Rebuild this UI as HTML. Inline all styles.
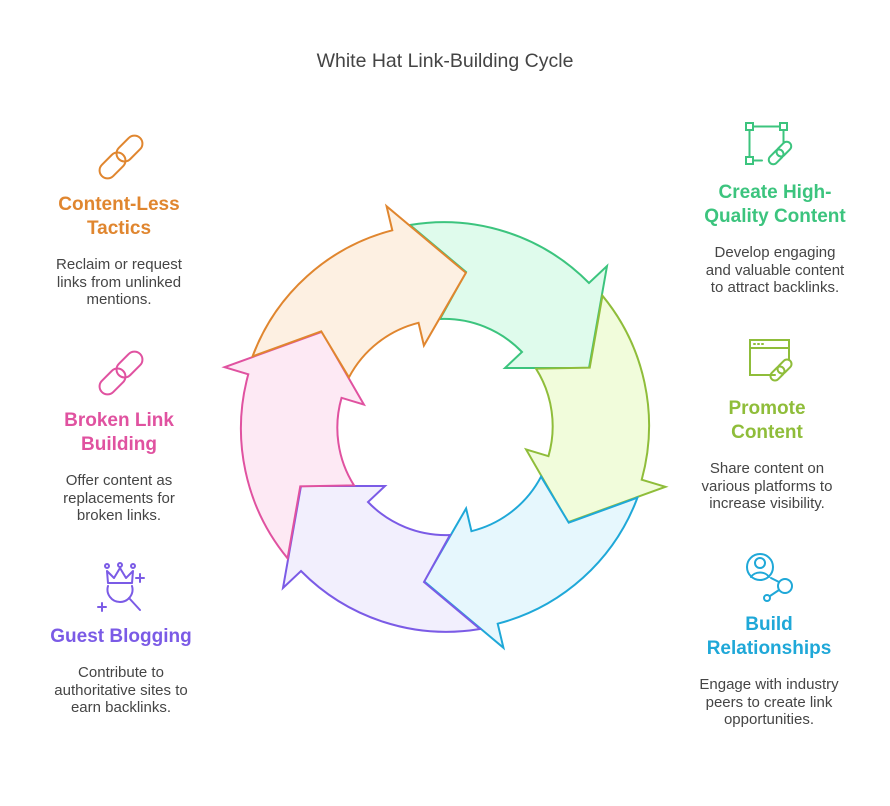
<!DOCTYPE html>
<html><head><meta charset="utf-8"><style>
body{margin:0;width:890px;height:806px;background:#fff;position:relative;font-family:"Liberation Sans",Arial,sans-serif;overflow:hidden}
.t{position:absolute;text-align:center;white-space:nowrap}
.h{font-weight:bold;font-size:19px;line-height:24px}
.b{font-size:15px;line-height:17.5px;color:#454545}
svg{position:absolute;left:0;top:0}
</style></head><body>
<div class="t" style="left:0;width:890px;top:50px;font-size:19.5px;line-height:22px;color:#444">White Hat Link-Building Cycle</div>

<svg width="890" height="806" viewBox="0 0 890 806">
<defs>
<path id="arr" d="M410,225 A204,204 0 0 1 589,283 L607,266 L589,368 L505,368 L522,352 A108,108 0 0 0 440,319 L466,272 Z" stroke-width="2" stroke-linejoin="miter"/>
<g id="lnk" fill="none" stroke-width="2">
<rect x="-8" y="-27" width="16" height="30" rx="8"/>
<rect x="-8" y="-3" width="16" height="30" rx="8"/>
</g>
</defs>
<use href="#arr" fill="#dffbec" stroke="#3cc47e"/>
<use href="#arr" transform="rotate(60 445 427)" fill="#f1fcdb" stroke="#8fbd3a"/>
<use href="#arr" transform="rotate(120 445 427)" fill="#e6f7fd" stroke="#1fa8d8"/>
<use href="#arr" transform="rotate(180 445 427)" fill="#f2effd" stroke="#7b5be6"/>
<use href="#arr" transform="rotate(240 445 427)" fill="#fde9f4" stroke="#e052a0"/>
<use href="#arr" transform="rotate(300 445 427)" fill="#fdf0e2" stroke="#e0862f"/>

<use href="#lnk" stroke="#e0862f" transform="translate(121 157) rotate(45)"/>
<use href="#lnk" stroke="#e052a0" transform="translate(121 373) rotate(45)"/>

<g fill="none" stroke="#7b5be6" stroke-width="2" stroke-linecap="round" stroke-linejoin="round">
<path d="M108,583 L107,571 L114,578 L120,568 L126,578 L133,571 L132,583 Z"/>
<circle cx="107" cy="566" r="2"/><circle cx="120" cy="565" r="2"/><circle cx="133" cy="566" r="2"/>
<path d="M108,586 A12.5,12.5 0 1 0 132,586"/>
<path d="M129,598 L140,610"/>
<path d="M140,574 v8 M136,578 h8 M102,603 v8 M98,607 h8"/>
</g>
<g fill="none" stroke="#3cc47e" stroke-width="2" stroke-linecap="round">
<rect x="746" y="123" width="7" height="7"/><rect x="780" y="123" width="7" height="7"/><rect x="746" y="157" width="7" height="7"/>
<path d="M753,126.5 H780 M749.5,130 V157 M753,160.5 H762 M783.5,130 V143"/>
<g transform="translate(780 153) rotate(45)"><rect x="-4.5" y="-14" width="9" height="17" rx="4.5"/><rect x="-4.5" y="-3" width="9" height="17" rx="4.5"/></g>
</g>
<g fill="none" stroke="#8fbd3a" stroke-width="2" stroke-linecap="round">
<path d="M775,375 H750 V340 H789 V360"/>
<path d="M750,348 H789"/>
<path d="M754,344 h1 M758,344 h1 M762,344 h1"/>
<g transform="translate(781 370) rotate(45)"><rect x="-4.5" y="-13" width="9" height="16" rx="4.5"/><rect x="-4.5" y="-3" width="9" height="16" rx="4.5"/></g>
</g>
<g fill="none" stroke="#1fa8d8" stroke-width="2" stroke-linecap="round">
<circle cx="760" cy="567" r="13"/>
<circle cx="760" cy="563" r="5"/>
<path d="M751,577 A10,8 0 0 1 769,577"/>
<circle cx="785" cy="586" r="7"/>
<circle cx="767" cy="598" r="3"/>
<path d="M770,596 L779,590 M771,578 L779,582"/>
</g>
</svg>

<div class="t h" style="left:19px;width:200px;top:193px;color:#e0862f">Content-Less<br>Tactics</div>
<div class="t b" style="left:19px;width:200px;top:256px">Reclaim or request<br>links from unlinked<br>mentions.</div>

<div class="t h" style="left:19px;width:200px;top:409px;color:#e052a0">Broken Link<br>Building</div>
<div class="t b" style="left:19px;width:200px;top:472px">Offer content as<br>replacements for<br>broken links.</div>

<div class="t h" style="left:21px;width:200px;top:625px;color:#7b5be6">Guest Blogging</div>
<div class="t b" style="left:21px;width:200px;top:664px">Contribute to<br>authoritative sites to<br>earn backlinks.</div>

<div class="t h" style="left:675px;width:200px;top:181px;color:#3cc47e">Create High-<br>Quality Content</div>
<div class="t b" style="left:675px;width:200px;top:244px">Develop engaging<br>and valuable content<br>to attract backlinks.</div>

<div class="t h" style="left:667px;width:200px;top:397px;color:#8fbd3a">Promote<br>Content</div>
<div class="t b" style="left:667px;width:200px;top:460px">Share content on<br>various platforms to<br>increase visibility.</div>

<div class="t h" style="left:669px;width:200px;top:613px;color:#1fa8d8">Build<br>Relationships</div>
<div class="t b" style="left:669px;width:200px;top:676px">Engage with industry<br>peers to create link<br>opportunities.</div>
</body></html>
